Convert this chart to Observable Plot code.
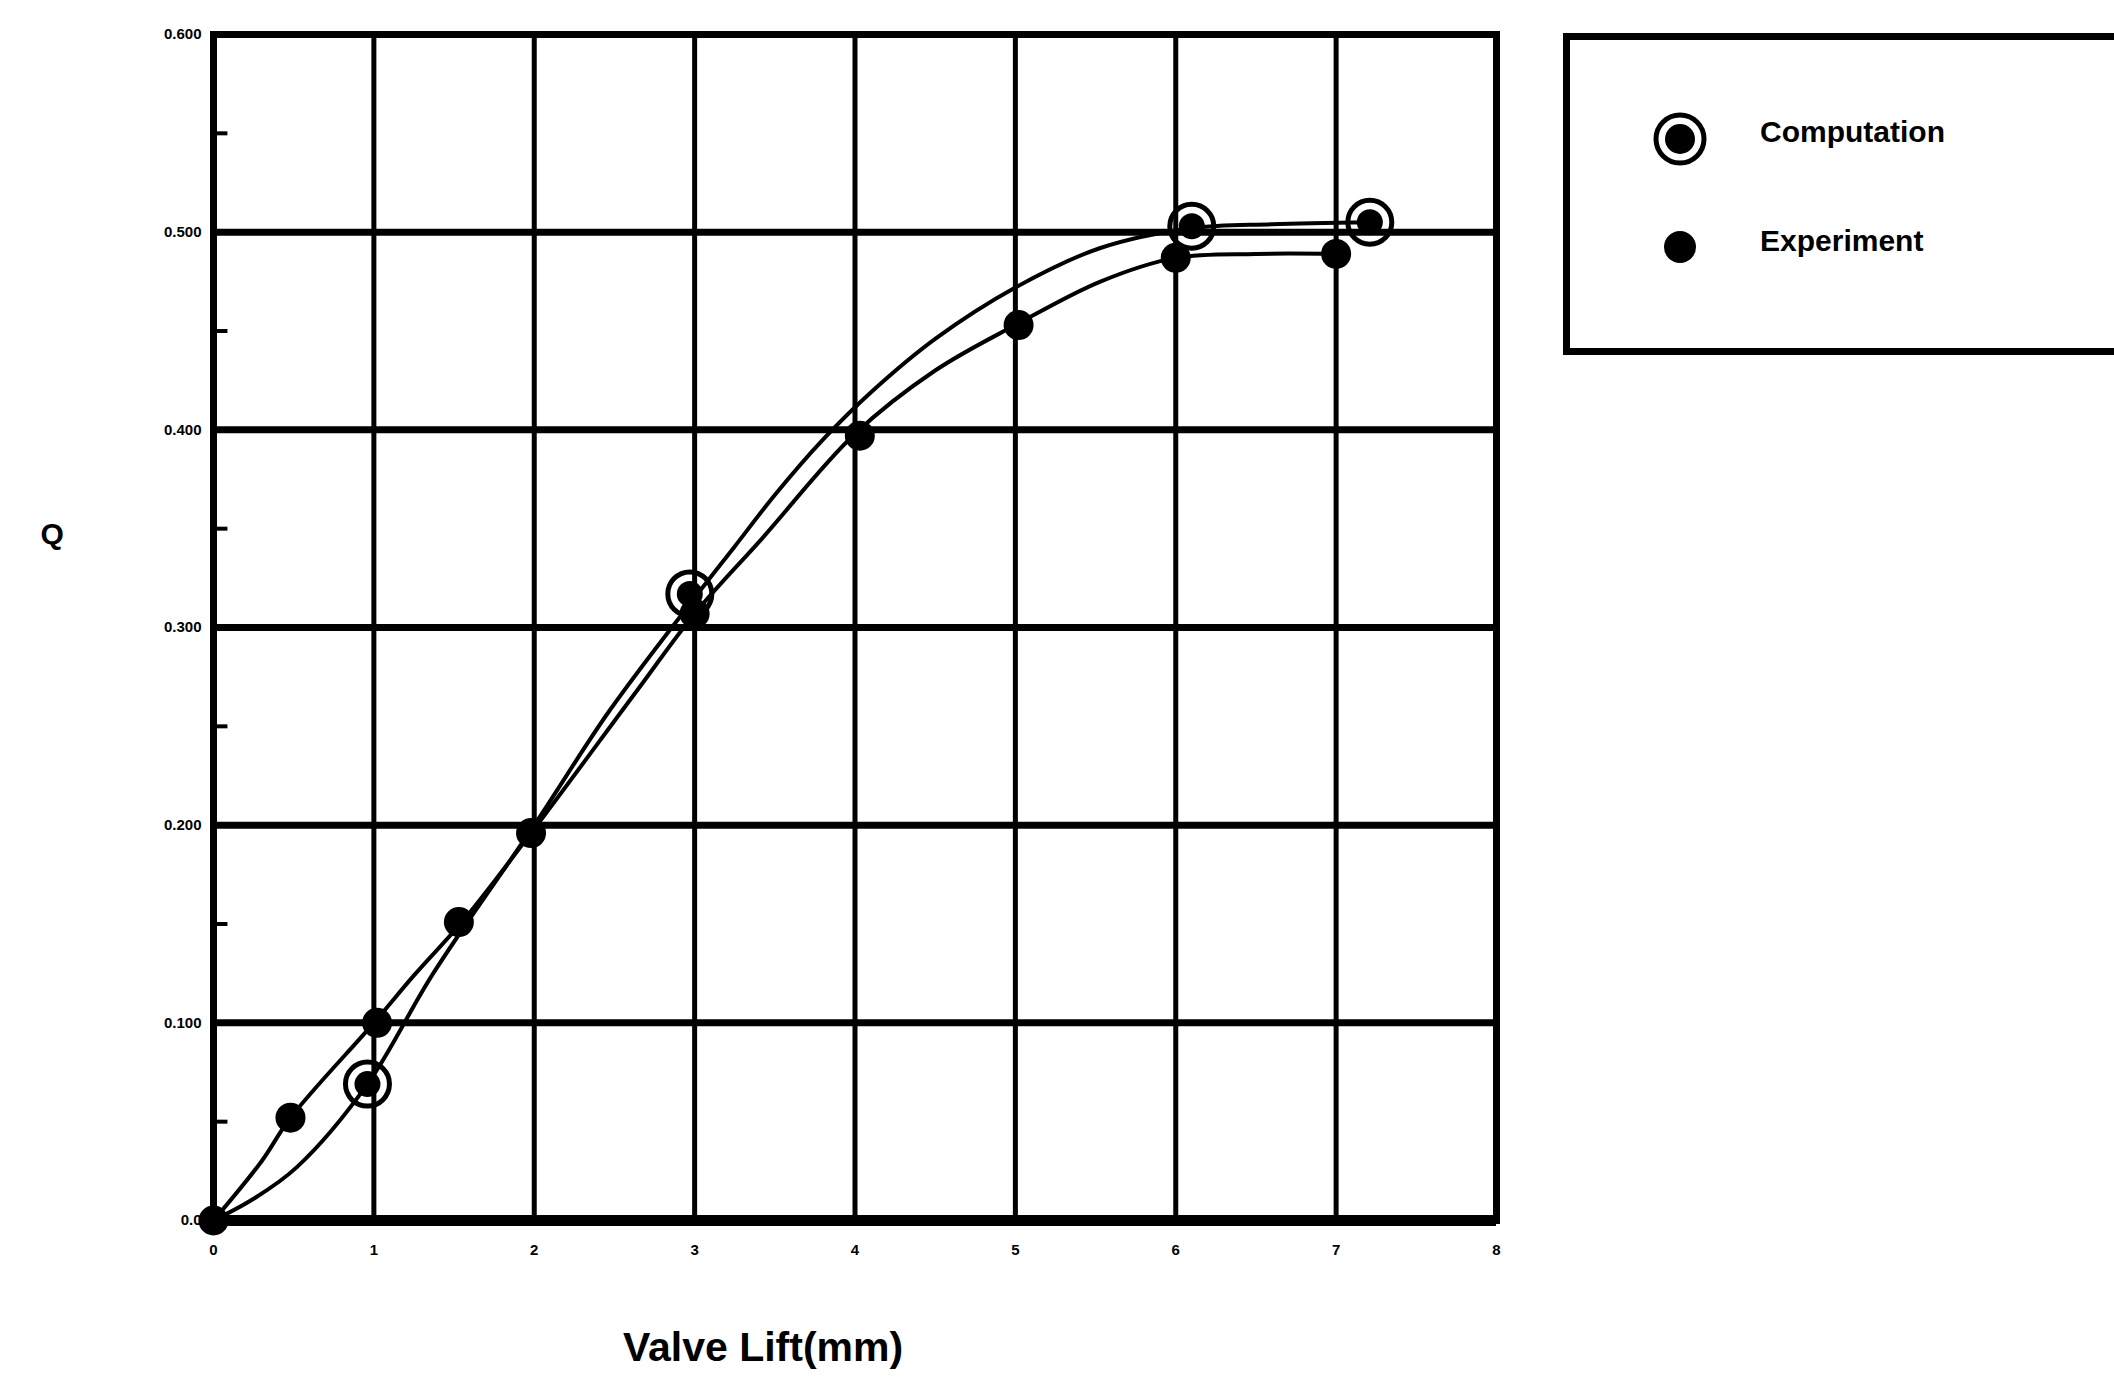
<!DOCTYPE html>
<html>
<head>
<meta charset="utf-8">
<script src="https://cdn.jsdelivr.net/npm/d3@7"></script>
<script src="https://cdn.jsdelivr.net/npm/@observablehq/plot@0.6"></script>
<style>
  html, body { margin: 0; padding: 0; background: #fff; overflow: hidden; }
  #wrap { position: relative; width: 2114px; height: 1380px; }
  #legend { position: absolute; left: 1563px; top: 33px; width: 620px; height: 322px;
            border: 7px solid #000; border-right: none; box-sizing: border-box; background: #fff; }
  #legend .lab { position: absolute; font-family: "Liberation Sans", Arial, sans-serif; font-weight: bold;
                 font-size: 30px; color: #000; white-space: nowrap; }
  #legend svg { position: absolute; overflow: visible; }
</style>
</head>
<body>
<div id="wrap">
  <div id="chart"></div>
  <div id="legend">
    <svg style="left:80px; top:69px" width="60" height="60" viewBox="-30 -30 60 60">
      <circle r="24" fill="none" stroke="#000" stroke-width="5"></circle>
      <circle r="15" fill="#000"></circle>
    </svg>
    <div class="lab" style="left:190px; top:75px">Computation</div>
    <svg style="left:90px; top:187px" width="40" height="40" viewBox="-20 -20 40 40">
      <circle r="16" fill="#000"></circle>
    </svg>
    <div class="lab" style="left:190px; top:184px">Experiment</div>
  </div>
</div>
<script>
// Axis ticks
const xTicks = [0, 1, 2, 3, 4, 5, 6, 7, 8];
const yTicks = [0, 0.1, 0.2, 0.3, 0.4, 0.5, 0.6];
const yTickLabels = ["0.0", "0.100", "0.200", "0.300", "0.400", "0.500", "0.600"];
const yMinorTicks = [0.05, 0.15, 0.25, 0.35, 0.45, 0.55];

// Computation curve
const compCurveX = [0, 0.25, 0.52, 0.96, 1.37, 2.0, 2.47, 3.0, 3.25, 3.5, 3.8, 4.1, 4.5, 5.0, 5.53, 6.1, 6.6, 7.21];
const compCurveY = [0, 0.011, 0.027, 0.069, 0.125, 0.2, 0.258, 0.315, 0.341, 0.367, 0.395, 0.419, 0.446, 0.472, 0.492, 0.502, 0.504, 0.505];
// Computation markers
const compPointX = [0.96, 2.97, 6.1, 7.21];
const compPointY = [0.069, 0.317, 0.503, 0.505];

// Experiment curve
const expCurveX = [0, 0.3, 0.48, 1.0, 1.25, 1.56, 1.98, 2.64, 3.0, 3.42, 4.0, 4.5, 5.0, 5.53, 6.0, 6.5, 7.0];
const expCurveY = [0, 0.03, 0.052, 0.1, 0.124, 0.152, 0.196, 0.268, 0.307, 0.345, 0.398, 0.43, 0.453, 0.475, 0.487, 0.489, 0.489];
// Experiment markers
const expPointX = [0, 0.48, 1.02, 1.53, 1.98, 3.0, 4.03, 5.02, 6.0, 7.0];
const expPointY = [0, 0.052, 0.1, 0.151, 0.196, 0.307, 0.397, 0.453, 0.487, 0.489];

const zip = (xs, ys) => xs.map((x, i) => ({x, y: ys[i]}));
const compCurve = zip(compCurveX, compCurveY);
const expCurve = zip(expCurveX, expCurveY);
const compPts = zip(compPointX, compPointY);
const expPts = zip(expPointX, expPointY);

const chart = Plot.plot({
  width: 2114,
  height: 1380,
  marginLeft: 213,
  marginRight: 618,
  marginTop: 34,
  marginBottom: 160,
  style: {fontFamily: "'Liberation Sans', Arial, sans-serif", fontWeight: "bold", background: "#fff", color: "#000"},
  x: {domain: [0, 8]},
  y: {domain: [0, 0.6]},
  marks: [
    Plot.gridX(xTicks, {stroke: "#000", strokeOpacity: 1, strokeWidth: 5}),
    Plot.gridY(yTicks, {stroke: "#000", strokeOpacity: 1, strokeWidth: 7}),
    Plot.ruleY(yMinorTicks, {x1: 0, x2: 0.09, stroke: "#000", strokeWidth: 4}),
    Plot.frame({stroke: "#000", strokeWidth: 7}),
    Plot.ruleY([0], {stroke: "#000", strokeWidth: 11}),
    Plot.axisX({ticks: xTicks, tickSize: 0, tickPadding: 24, fontSize: 15, label: null, tickFormat: d => String(d)}),
    Plot.axisY({ticks: yTicks, tickSize: 0, tickPadding: 12, fontSize: 15, label: null,
                tickFormat: d => yTickLabels[yTicks.findIndex(t => Math.abs(t - d) < 1e-9)]}),
    Plot.line(compCurve, {x: "x", y: "y", curve: "catmull-rom", stroke: "#000", strokeWidth: 4}),
    Plot.line(expCurve, {x: "x", y: "y", curve: "catmull-rom", stroke: "#000", strokeWidth: 4}),
    Plot.dot(expPts, {x: "x", y: "y", r: 15, fill: "#000", stroke: "none"}),
    Plot.dot(compPts, {x: "x", y: "y", r: 22, fill: "none", stroke: "#000", strokeWidth: 5}),
    Plot.dot(compPts, {x: "x", y: "y", r: 13, fill: "#000", stroke: "none"}),
    Plot.text(["Q"], {frameAnchor: "left", dx: -173, dy: -93, text: d => d, fontSize: 30, fontWeight: "bold"}),
    Plot.text(["Valve Lift(mm)"], {frameAnchor: "bottom", dy: 140, dx: -92, text: d => d, fontSize: 41, fontWeight: "bold"})
  ]
});
document.getElementById("chart").appendChild(chart);
</script>
</body>
</html>
